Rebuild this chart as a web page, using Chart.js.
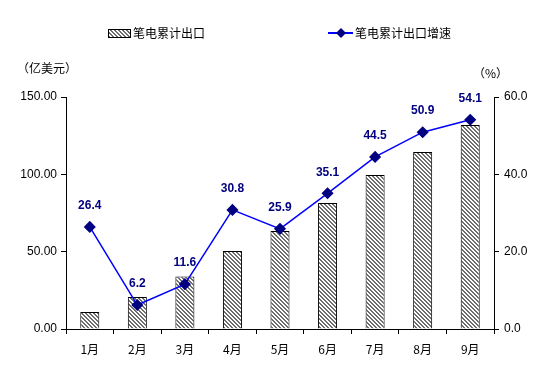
<!DOCTYPE html>
<html>
<head>
<meta charset="utf-8">
<script src="https://cdn.jsdelivr.net/npm/chart.js@4.4.0/dist/chart.umd.min.js"></script>
<style>
  html, body { margin: 0; padding: 0; background: #fff; }
  #wrap { width: 545px; height: 374px; position: relative; }
</style>
</head>
<body>
<div id="wrap"><canvas id="chart_1"></canvas></div>
<script>
// data
var months = ["1月", "2月", "3月", "4月", "5月", "6月", "7月", "8月", "9月"]
var exportValue = [11.0, 20.7, 34.0, 50.4, 63.4, 81.5, 99.6, 114.4, 131.9]
var exportGrowth = [26.4, 6.2, 11.6, 30.8, 25.9, 35.1, 44.5, 50.9, 54.1]
var barName = "笔电累计出口"
var lineName = "笔电累计出口增速"

var cjkFont = "'Noto Sans CJK SC', 'Liberation Sans', sans-serif"
var numFont = "'Liberation Sans', Arial, sans-serif"

// hatch pattern for the bars
function makeHatch() {
    var c = document.createElement("canvas")
    c.width = 4
    c.height = 4
    var ctx = c.getContext("2d")
    ctx.fillStyle = "#fff"
    ctx.fillRect(0, 0, 4, 4)
    ctx.fillStyle = "#6e6e6e"
    for (var i = 0; i < 4; i++) {
        ctx.fillRect(i, i, 1, 1)
        ctx.fillRect((i + 1) % 4, i, 1, 1)
    }
    return document.getElementById("chart_1").getContext("2d").createPattern(c, "repeat")
}
var hatch = makeHatch()

// labels above the line points, legend and axis titles
var extras = {
    id: "extras",
    afterDatasetsDraw: function (chart) {
        var ctx = chart.ctx
        var meta = chart.getDatasetMeta(1)
        ctx.save()
        ctx.fillStyle = "#000080"
        ctx.font = "bold 12px " + numFont
        ctx.textAlign = "center"
        ctx.textBaseline = "middle"
        meta.data.forEach(function (pt, i) {
            ctx.fillText(exportGrowth[i].toFixed(1), pt.x, pt.y - 21)
        })
        ctx.restore()
    },
    afterDraw: function (chart) {
        var ctx = chart.ctx
        ctx.save()
        // legend
        ctx.fillStyle = hatch
        ctx.fillRect(108, 29, 22, 8)
        ctx.strokeStyle = "#000"
        ctx.lineWidth = 1
        ctx.strokeRect(108.5, 29.5, 22, 8)
        ctx.fillStyle = "#000"
        ctx.font = "12px " + cjkFont
        ctx.textBaseline = "middle"
        ctx.textAlign = "left"
        ctx.fillText(barName, 133, 33)
        ctx.strokeStyle = "#0000ff"
        ctx.lineWidth = 2
        ctx.beginPath()
        ctx.moveTo(328, 33)
        ctx.lineTo(353, 33)
        ctx.stroke()
        ctx.fillStyle = "#000080"
        ctx.beginPath()
        ctx.moveTo(341, 28)
        ctx.lineTo(346, 33)
        ctx.lineTo(341, 38)
        ctx.lineTo(336, 33)
        ctx.closePath()
        ctx.fill()
        ctx.fillStyle = "#000"
        ctx.fillText(lineName, 355, 33)
        // axis titles
        ctx.font = "12px " + cjkFont
        ctx.fillText("（亿美元）", 17, 68)
        ctx.fillText("（%）", 473, 73)
        ctx.restore()
    }
}

var config_1 = {
    type: "bar",
    data: {
        labels: months,
        datasets: [
            {
                type: "bar",
                label: barName,
                data: exportValue,
                backgroundColor: hatch,
                borderColor: "#000",
                borderWidth: 1,
                barPercentage: 0.8,
                categoryPercentage: 0.5,
                yAxisID: "y",
                order: 2
            },
            {
                type: "line",
                label: lineName,
                data: exportGrowth,
                borderColor: "#0000ff",
                borderWidth: 1.5,
                pointStyle: "rectRot",
                pointRadius: 5,
                pointBackgroundColor: "#000080",
                pointBorderColor: "#000080",
                tension: 0,
                yAxisID: "y1",
                order: 1
            }
        ]
    },
    options: {
        responsive: true,
        maintainAspectRatio: false,
        animation: false,
        layout: { padding: { top: 97, left: 6, right: 0, bottom: 5 } },
        plugins: {
            legend: { display: false },
            tooltip: { enabled: false }
        },
        scales: {
            x: {
                grid: { display: true, drawOnChartArea: false, drawTicks: true, tickLength: 5, color: "#000", offset: true },
                border: { color: "#000", width: 1 },
                ticks: { color: "#000", font: { size: 12, family: cjkFont }, padding: 8 },
                afterFit: function (scale) { scale.height = 40 }
            },
            y: {
                position: "left",
                min: 0,
                max: 150,
                ticks: {
                    stepSize: 50,
                    color: "#000",
                    font: { size: 12, family: numFont },
                    padding: 4,
                    callback: function (v) { return v.toFixed(2) }
                },
                grid: { drawOnChartArea: false, drawTicks: true, tickLength: 5, color: "#000" },
                border: { color: "#000", width: 1 },
                afterFit: function (scale) { scale.width = 60 }
            },
            y1: {
                position: "right",
                min: 0,
                max: 60,
                ticks: {
                    stepSize: 20,
                    color: "#000",
                    font: { size: 12, family: numFont },
                    padding: 5,
                    callback: function (v) { return v.toFixed(1) }
                },
                grid: { drawOnChartArea: false, drawTicks: true, tickLength: 5, color: "#000" },
                border: { color: "#000", width: 1 },
                afterFit: function (scale) { scale.width = 51 }
            }
        }
    },
    plugins: [extras]
}

var CHART_1 = new Chart(document.getElementById("chart_1"), config_1)
</script>
</body>
</html>
